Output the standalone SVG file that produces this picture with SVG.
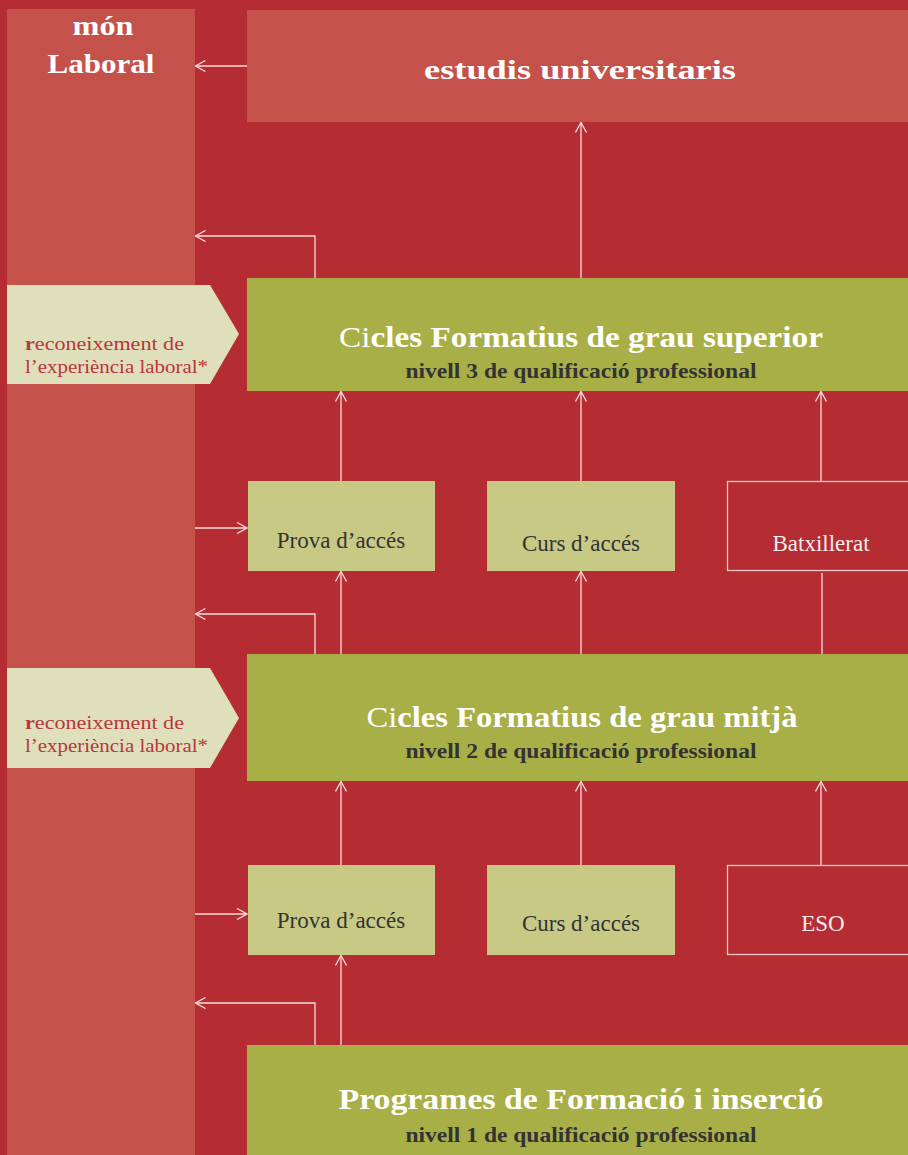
<svg xmlns="http://www.w3.org/2000/svg" width="908" height="1155" viewBox="0 0 908 1155">
<defs>
<marker id="ah" markerWidth="12" markerHeight="12" refX="11" refY="6" orient="auto" markerUnits="userSpaceOnUse">
<path d="M1,0.5 L11,6 L1,11.5" fill="none" stroke="#F4DCDC" stroke-width="1.3"/>
</marker>
</defs>
<style>
.bg{fill:#B52C33}
.col{fill:#C4524A}
.green{fill:#A9AF47}
.light{fill:#C8C985}
.pent{fill:#DFDFBC}
.outl{fill:none;stroke:#EFC9CB;stroke-width:1.3}
.ln{fill:none;stroke:#F4DCDC;stroke-width:1.3}
.t{font-family:"Liberation Serif","Times New Roman",serif}
.head{font-weight:bold;fill:#FFFFFF;font-size:29px}
.sub{font-weight:bold;fill:#333333;font-size:21px}
.box{fill:#333333;font-size:23px}
.rec{fill:#B8363C;font-size:19px}
</style>
<rect class="bg" x="0" y="0" width="908" height="1155"/>
<g id="mon-laboral">
<rect class="col" x="7" y="9" width="188" height="1146"/>
<text class="t head" x="103" y="35" text-anchor="middle" style="font-size:27px" textLength="61" lengthAdjust="spacingAndGlyphs">món</text>
<text class="t head" x="101" y="73" text-anchor="middle" style="font-size:27px" textLength="107" lengthAdjust="spacingAndGlyphs">Laboral</text>
</g>
<g id="estudis">
<rect class="col" x="247" y="10" width="661" height="112"/>
<text class="t head" x="580" y="79" text-anchor="middle" style="font-size:27px" textLength="312" lengthAdjust="spacingAndGlyphs">estudis universitaris</text>
</g>
<g id="rec1">
<polygon class="pent" points="7,285 210,285 239,334 210,384 7,384"/>
<text class="t rec" x="25" y="350" textLength="159" lengthAdjust="spacingAndGlyphs"><tspan font-weight="bold">r</tspan>econeixement de</text>
<text class="t rec" x="25" y="373" textLength="183" lengthAdjust="spacingAndGlyphs">l’experiència laboral*</text>
</g>
<g id="rec2">
<polygon class="pent" points="7,668 210,668 239,718 210,768 7,768"/>
<text class="t rec" x="25" y="729" textLength="159" lengthAdjust="spacingAndGlyphs"><tspan font-weight="bold">r</tspan>econeixement de</text>
<text class="t rec" x="25" y="752" textLength="183" lengthAdjust="spacingAndGlyphs">l’experiència laboral*</text>
</g>
<g id="cfgs">
<rect class="green" x="247" y="278" width="661" height="113"/>
<text class="t head" x="581" y="347" text-anchor="middle" textLength="484" lengthAdjust="spacingAndGlyphs"><tspan font-weight="normal">Ci</tspan>cles Formatius de  grau superior</text>
<text class="t sub" x="581" y="378" text-anchor="middle" textLength="351" lengthAdjust="spacingAndGlyphs">nivell  3 de qualificació professional</text>
</g>
<g id="prova1">
<rect class="light" x="248" y="481" width="187" height="90"/>
<text class="t box" x="341" y="548" text-anchor="middle">Prova d’accés</text>
</g>
<g id="curs1">
<rect class="light" x="487" y="481" width="188" height="90"/>
<text class="t box" x="581" y="551" text-anchor="middle">Curs d’accés</text>
</g>
<g id="batx">
<rect class="outl" x="727.5" y="481.5" width="185" height="89"/>
<text class="t box" x="821" y="551" text-anchor="middle" style="fill:#F8ECEC">Batxillerat</text>
</g>
<g id="cfgm">
<rect class="green" x="247" y="654" width="661" height="127"/>
<text class="t head" x="582" y="727" text-anchor="middle" textLength="431" lengthAdjust="spacingAndGlyphs"><tspan font-weight="normal">Ci</tspan>cles Formatius de  grau mitjà</text>
<text class="t sub" x="581" y="758" text-anchor="middle" textLength="351" lengthAdjust="spacingAndGlyphs">nivell  2 de qualificació professional</text>
</g>
<g id="prova2">
<rect class="light" x="248" y="865" width="187" height="90"/>
<text class="t box" x="341" y="928" text-anchor="middle">Prova d’accés</text>
</g>
<g id="curs2">
<rect class="light" x="487" y="865" width="188" height="90"/>
<text class="t box" x="581" y="931" text-anchor="middle">Curs d’accés</text>
</g>
<g id="eso">
<rect class="outl" x="727.5" y="865.5" width="185" height="89"/>
<text class="t box" x="823" y="931" text-anchor="middle" style="fill:#F8ECEC">ESO</text>
</g>
<g id="pfi">
<rect class="green" x="247" y="1045" width="661" height="110"/>
<text class="t head" x="581" y="1109" text-anchor="middle" textLength="485" lengthAdjust="spacingAndGlyphs">Programes de  Formació i inserció</text>
<text class="t sub" x="581" y="1142" text-anchor="middle" textLength="351" lengthAdjust="spacingAndGlyphs">nivell  1 de qualificació professional</text>
</g>
<g id="connectors">
<path class="ln" d="M247,66 H195.5" marker-end="url(#ah)"/>
<path class="ln" d="M581,278 V122.5" marker-end="url(#ah)"/>
<path class="ln" d="M315,278 V236 H195.5" marker-end="url(#ah)"/>
<path class="ln" d="M341,481 V391.5" marker-end="url(#ah)"/>
<path class="ln" d="M581,481 V391.5" marker-end="url(#ah)"/>
<path class="ln" d="M821,481 V391.5" marker-end="url(#ah)"/>
<path class="ln" d="M195,528 H247" marker-end="url(#ah)"/>
<path class="ln" d="M341,654 V571.5" marker-end="url(#ah)"/>
<path class="ln" d="M581,654 V571.5" marker-end="url(#ah)"/>
<path class="ln" d="M822,654 V573"/>
<path class="ln" d="M315,654 V614 H195.5" marker-end="url(#ah)"/>
<path class="ln" d="M341,865 V781.5" marker-end="url(#ah)"/>
<path class="ln" d="M581,865 V781.5" marker-end="url(#ah)"/>
<path class="ln" d="M821,865 V781.5" marker-end="url(#ah)"/>
<path class="ln" d="M195,914 H247" marker-end="url(#ah)"/>
<path class="ln" d="M341,1045 V955.5" marker-end="url(#ah)"/>
<path class="ln" d="M315,1045 V1003 H195.5" marker-end="url(#ah)"/>
</g>
</svg>
